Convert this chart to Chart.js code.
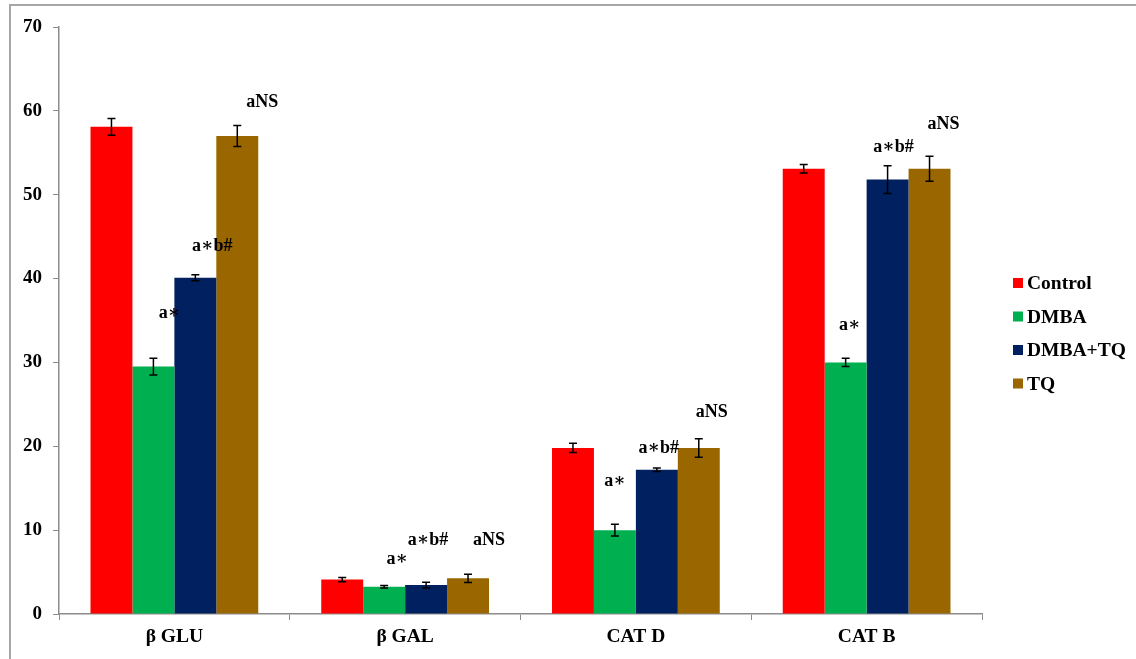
<!DOCTYPE html>
<html>
<head>
<meta charset="utf-8">
<script src="https://cdn.jsdelivr.net/npm/chart.js@4.4.1/dist/chart.umd.min.js"></script>
<style>
  html, body { margin: 0; padding: 0; background: #fff; }
  #wrap { position: relative; width: 1136px; height: 659px; overflow: hidden; }
  #frame { position: absolute; left: 9px; top: 4px; width: 2000px; height: 2000px;
           border-top: 2px solid #a6a6a6; border-left: 2px solid #a6a6a6; }
  canvas { position: absolute; left: 0; top: 0; }
</style>
</head>
<body>
<div id="wrap">
  <div id="frame"></div>
  <canvas id="chart" width="1136" height="659"></canvas>
</div>
<script>
/* ─── data ─── */
const CATEGORIES = ['β GLU', 'β GAL', 'CAT D', 'CAT B'];
const SERIES     = ['Control', 'DMBA', 'DMBA+TQ', 'TQ'];

const CONTROL     = [58.1, 4.1, 19.8, 53.1];
const CONTROL_ERR = [1.0, 0.25, 0.55, 0.5];
const DMBA        = [29.5, 3.25, 10.0, 30.0];
const DMBA_ERR    = [1.0, 0.15, 0.7, 0.5];
const DMBA_TQ     = [40.1, 3.45, 17.2, 51.8];
const DMBA_TQ_ERR = [0.35, 0.35, 0.2, 1.65];
const TQ          = [57.0, 4.25, 19.8, 53.1];
const TQ_ERR      = [1.25, 0.5, 1.1, 1.5];

/* significance marks, one per series */
const MARKS = ['', 'a∗', 'a∗b#', 'aNS'];

/* ─── label placement (y in axis units, x nudge in px) ─── */
const MARK_Y = [
  null,
  [35.9, 6.5, 15.8, 34.4],
  [43.8, 8.8, 19.75, 55.7],
  [61.0, 8.8, 24.1, 58.4],
];
const MARK_DX = [
  null,
  [16, 13, 0, 4],
  [17, 2, 2, 6],
  [25, 21, 13, 14],
];

const COLORS = ['#ff0000', '#00b050', '#002060', '#996600'];
const FONT = "'Liberation Serif', 'Times New Roman', 'DejaVu Serif', serif";

const VALUES = [CONTROL, DMBA, DMBA_TQ, TQ];
const ERRORS = [CONTROL_ERR, DMBA_ERR, DMBA_TQ_ERR, TQ_ERR];

/* ─── error bars ─── */
const errorBars = {
  id: 'errorBars',
  afterDatasetsDraw(chart) {
    const { ctx, scales: { y } } = chart;
    ctx.save();
    ctx.strokeStyle = '#000';
    ctx.lineWidth = 1.5;
    chart.data.datasets.forEach((ds, i) => {
      chart.getDatasetMeta(i).data.forEach((bar, j) => {
        const v = VALUES[i][j], e = ERRORS[i][j];
        const top = y.getPixelForValue(v + e), bot = y.getPixelForValue(v - e);
        ctx.beginPath();
        ctx.moveTo(bar.x, top); ctx.lineTo(bar.x, bot);
        ctx.moveTo(bar.x - 4, top); ctx.lineTo(bar.x + 4, top);
        ctx.moveTo(bar.x - 4, bot); ctx.lineTo(bar.x + 4, bot);
        ctx.stroke();
      });
    });
    ctx.restore();
  }
};

/* ─── significance labels ─── */
const marks = {
  id: 'marks',
  afterDatasetsDraw(chart) {
    const { ctx, scales: { y } } = chart;
    ctx.save();
    ctx.fillStyle = '#000';
    ctx.font = `bold 18px ${FONT}`;
    ctx.textAlign = 'center';
    ctx.textBaseline = 'middle';
    MARKS.forEach((txt, i) => {
      if (!txt) return;
      chart.getDatasetMeta(i).data.forEach((bar, j) => {
        ctx.fillText(txt, bar.x + MARK_DX[i][j], y.getPixelForValue(MARK_Y[i][j]));
      });
    });
    ctx.restore();
  }
};

/* ─── legend on the right ─── */
const sideLegend = {
  id: 'sideLegend',
  afterDraw(chart) {
    const { ctx } = chart;
    ctx.save();
    ctx.font = `bold 19.5px ${FONT}`;
    ctx.textBaseline = 'middle';
    ctx.textAlign = 'left';
    SERIES.forEach((name, i) => {
      const cy = 283 + i * 33.5;
      ctx.fillStyle = COLORS[i];
      ctx.fillRect(1013, cy - 5, 10, 10);
      ctx.fillStyle = '#000';
      ctx.fillText(name, 1027, cy + 1);
    });
    ctx.restore();
  }
};

new Chart(document.getElementById('chart'), {
  type: 'bar',
  data: {
    labels: CATEGORIES,
    datasets: SERIES.map((name, i) => ({
      label: name,
      data: VALUES[i],
      backgroundColor: COLORS[i],
      borderWidth: 0,
      categoryPercentage: 0.727,
      barPercentage: 1.0,
    })),
  },
  options: {
    responsive: false,
    animation: false,
    layout: { padding: { top: 27, right: 154, left: 0, bottom: 0 } },
    plugins: { legend: { display: false }, tooltip: { enabled: false } },
    scales: {
      x: {
        afterFit: s => { s.height = 45; },
        grid: { drawOnChartArea: false, drawTicks: true, tickLength: 6, color: '#8c8c8c', offset: true },
        border: { display: true, color: '#8c8c8c', width: 1.5 },
        ticks: { color: '#000', padding: 5, font: { family: FONT, size: 19.5, weight: 'bold' } },
      },
      y: {
        min: 0, max: 70,
        afterFit: s => { s.width = 59; },
        grid: { drawOnChartArea: false, drawTicks: true, tickLength: 6, color: '#8c8c8c' },
        border: { display: true, color: '#8c8c8c', width: 1.5 },
        ticks: { stepSize: 10, color: '#000', padding: 11, font: { family: FONT, size: 19, weight: 'bold' } },
      },
    },
  },
  plugins: [errorBars, marks, sideLegend],
});
</script>
</body>
</html>
